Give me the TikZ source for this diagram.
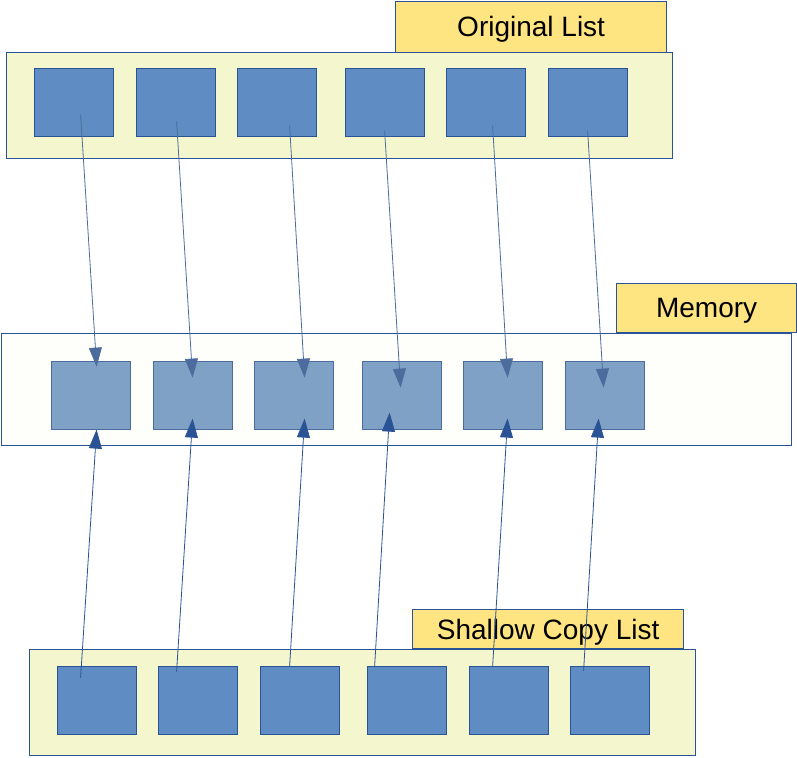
\documentclass[tikz,border=0pt]{standalone}
\usepackage{fontspec}
\setmainfont{Liberation Sans}
\usetikzlibrary{positioning, arrows.meta, calc}

\definecolor{edge}{HTML}{2A5396}
\definecolor{panelfill}{HTML}{F4F6CD}
\definecolor{memfill}{HTML}{FEFEFA}
\definecolor{tagfill}{HTML}{FFE482}
\definecolor{cellfill}{HTML}{5F8DC3}
\definecolor{memcell}{HTML}{7EA1C5}
\definecolor{memedge}{HTML}{4B6C9C}

\tikzset{
  panel/.style={draw=edge, line width=1.3pt, fill=panelfill, inner sep=0pt, anchor=north west},
  tag/.style={draw=edge, line width=1.3pt, fill=tagfill, inner sep=0pt, anchor=north west,
    font=\fontsize{28}{34}\selectfont, text depth=0pt},
  cell/.style={draw=edge, line width=1.2pt, fill=cellfill, inner sep=0pt, anchor=north west,
    minimum width=79pt, minimum height=68pt},
  memcell/.style={cell, draw=memedge, fill=memcell},
  down/.style={draw=memedge, line width=0.8pt, -{Triangle[length=19pt, width=13pt]}},
  up/.style={draw=edge, line width=0.8pt, -{Triangle[length=19pt, width=13pt]}}
}

\begin{document}
\begin{tikzpicture}[x=1pt, y=-1pt]
  \useasboundingbox (0,0) rectangle (797,757);
  % Original list
  \node[panel, minimum width=666pt, minimum height=106pt] (orig) at (6,52) {};
  \node[tag, minimum width=271pt, minimum height=51pt] (origtag) at (395,0.7) {Original List};
  \foreach \x [count=\i] in {34,136,237,345,446,548}
    \node[cell] (o\i) at (\x,68) {};
  % Memory
  \node[panel, fill=memfill, minimum width=790pt, minimum height=112pt] (mem) at (0.7,333) {};
  \node[tag, minimum width=180pt, minimum height=49pt] (memtag) at (616,283) {Memory};
  \foreach \x [count=\i] in {51,153,254,362,463,565}
    \node[memcell] (m\i) at (\x,361) {};
  % Shallow copy list
  \node[panel, minimum width=666pt, minimum height=106pt] (copy) at (29,649) {};
  \node[tag, minimum width=271pt, minimum height=39pt] (copytag) at (412,609) {Shallow Copy List};
  \foreach \x [count=\i] in {57,158,260,367,469,570}
    \node[cell] (s\i) at (\x,666) {};
  % References from the original list into memory
  \foreach \i/\a/\b/\c/\d in {1/6.5/12/5.5/-29, 2/0.5/19/-0.5/-18, 3/12.5/23/10.5/-18,
                              4/-0.5/28/-1.5/-8, 5/6.5/23/4.5/-18, 6/-0.5/28/-1.5/-8}
    \draw[down] ($(o\i.center)+(\a,\b)$) -- ($(m\i.center)+(\c,\d)$);
  % References from the shallow copy into the same memory
  \foreach \i/\a/\b/\c/\d in {1/-16.5/-23/5.5/34, 2/-21.5/-29/-0.5/23, 3/-10.5/-34/10.5/23,
                              4/-32.5/-34/-12.5/17, 5/-16.5/-34/4.5/23, 6/-26.5/-30/-6.5/23}
    \draw[up] ($(s\i.center)+(\a,\b)$) -- ($(m\i.center)+(\c,\d)$);
\end{tikzpicture}
\end{document}
